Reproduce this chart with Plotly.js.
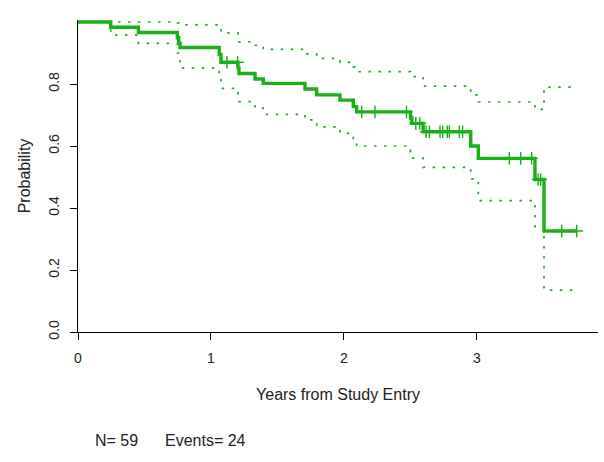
<!DOCTYPE html>
<html>
<head>
<meta charset="utf-8">
<script src="https://cdn.plot.ly/plotly-3.0.1.min.js"></script>
<style>
  html, body { margin: 0; padding: 0; background: #fff; }
  #chart { width: 604px; height: 462px; }
</style>
</head>
<body>
<div id="chart"></div>
<script>
// Kaplan-Meier step points (time in years, survival probability)
const times = [0, 0.246, 0.454, 0.747, 0.757, 0.767, 1.062, 1.075, 1.203, 1.21, 1.331, 1.393, 1.707, 1.795, 1.970, 2.070, 2.095, 2.500, 2.510, 2.595, 2.953, 3.010, 3.436, 3.504];
const surv  = [1, 0.983, 0.966, 0.949, 0.932, 0.918, 0.895, 0.870, 0.852, 0.834, 0.816, 0.802, 0.784, 0.765, 0.748, 0.727, 0.710, 0.691, 0.673, 0.646, 0.600, 0.560, 0.492, 0.326];
const upper = [1, 1, 1, 0.997, 0.994, 0.991, 0.980, 0.965, 0.950, 0.936, 0.925, 0.912, 0.897, 0.883, 0.870, 0.855, 0.840, 0.832, 0.824, 0.793, 0.765, 0.742, 0.718, 0.790];
const lower = [1, 0.958, 0.931, 0.900, 0.875, 0.851, 0.829, 0.786, 0.765, 0.743, 0.722, 0.702, 0.684, 0.662, 0.641, 0.619, 0.600, 0.581, 0.561, 0.531, 0.494, 0.424, 0.340, 0.135];
const censorTimes = [1.12, 1.20, 2.133, 2.233, 2.47, 2.54, 2.57, 2.617, 2.642, 2.722, 2.742, 2.777, 2.792, 2.867, 2.892, 3.243, 3.329, 3.411, 3.46, 3.479, 3.637, 3.75];
const lastTime = 3.75;
const xTickVals = [0, 1, 2, 3];
const xTickText = ['0', '1', '2', '3'];
const yTickVals = [0, 0.2, 0.4, 0.6, 0.8];
const yTickText = ['0.0', '0.2', '0.4', '0.6', '0.8'];
const nSubjects = 59;
const nEvents = 24;

const green = '#1AB01A';
const xs = times.concat([lastTime]);
const ext = arr => arr.concat([arr[arr.length - 1]]);
function stepValue(t) {
  let v = surv[0];
  for (let i = 0; i < times.length; i++) { if (times[i] <= t) v = surv[i]; }
  return v;
}

const traces = [
  { x: xs, y: ext(lower), mode: 'lines', line: { shape: 'hv', color: green, width: 1.7, dash: '2.5px,7.5px' }, hoverinfo: 'skip', showlegend: false },
  { x: xs, y: ext(upper), mode: 'lines', line: { shape: 'hv', color: green, width: 1.7, dash: '2.5px,7.5px' }, hoverinfo: 'skip', showlegend: false },
  { x: xs, y: ext(surv), mode: 'lines', line: { shape: 'hv', color: green, width: 3.4 }, showlegend: false },
  { x: censorTimes, y: censorTimes.map(stepValue), mode: 'markers',
    marker: { symbol: 'cross-thin', size: 9, color: green, line: { color: green, width: 1.4 } }, showlegend: false }
];

const font = { family: '"Liberation Sans", Arial, sans-serif', color: '#222' };
const layout = {
  width: 604, height: 462,
  margin: { l: 78, r: 6, t: 20, b: 130 },
  paper_bgcolor: '#fff', plot_bgcolor: '#fff',
  font: font,
  showlegend: false,
  xaxis: {
    range: [0, 3.91], showgrid: false, zeroline: false,
    showline: true, linecolor: '#000', linewidth: 1,
    ticks: 'outside', ticklen: 7, tickcolor: '#000', tickwidth: 1,
    tickvals: xTickVals, ticktext: xTickText,
    tickfont: { size: 14, family: font.family, color: '#222' },
    ticklabelstandoff: 6,
    title: { text: 'Years from Study Entry', font: { size: 16, family: font.family, color: '#222' }, standoff: 24 }
  },
  yaxis: {
    range: [0, 1.0065], showgrid: false, zeroline: false,
    showline: true, linecolor: '#000', linewidth: 1,
    ticks: 'outside', ticklen: 7, tickcolor: '#000', tickwidth: 1,
    tickvals: yTickVals, ticktext: yTickText, tickangle: -90,
    tickfont: { size: 14, family: font.family, color: '#222' },
    ticklabelstandoff: 5,
    title: { text: 'Probability', font: { size: 16, family: font.family, color: '#222' }, standoff: 11 }
  },
  annotations: [
    { xref: 'paper', yref: 'paper', x: (92.7 - 78) / 520, y: (332 - 440) / 312, xanchor: 'left', yanchor: 'middle',
      text: 'N= ' + nSubjects, showarrow: false, font: { size: 16, family: font.family, color: '#222' } },
    { xref: 'paper', yref: 'paper', x: (163.3 - 78) / 520, y: (332 - 440) / 312, xanchor: 'left', yanchor: 'middle',
      text: 'Events= ' + nEvents, showarrow: false, font: { size: 16, family: font.family, color: '#222' } }
  ]
};

Plotly.newPlot('chart', traces, layout, { displayModeBar: false, staticPlot: true });
</script>
</body>
</html>
